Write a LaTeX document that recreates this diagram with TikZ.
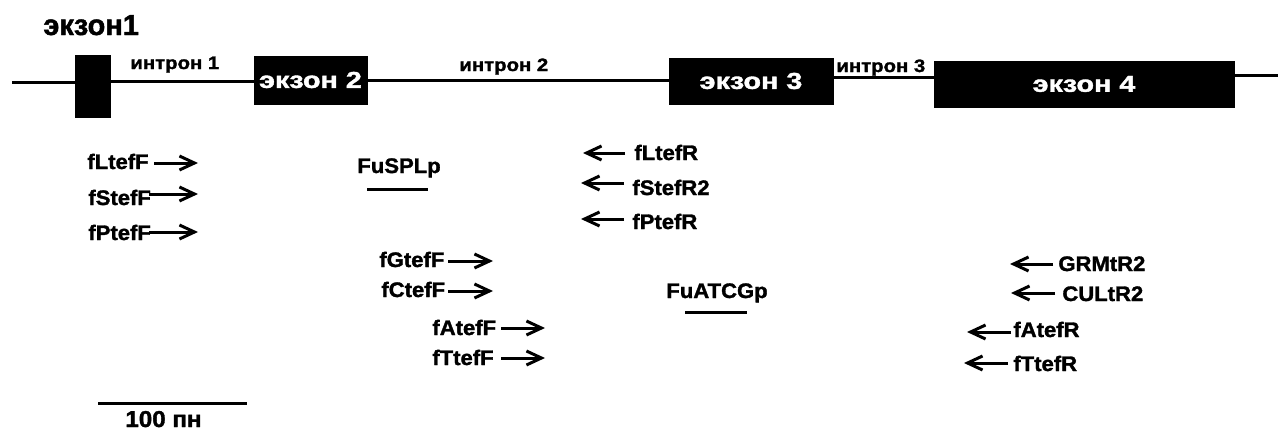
\documentclass[tikz,border=0pt]{standalone}
\usepackage{fontspec}
\usepackage{graphicx}
\setmainfont{Liberation Sans}[BoldFeatures={FakeBold=1.5}]
\usetikzlibrary{arrows.meta}
\newcommand\tx[3]{\fontsize{#1}{#1}\selectfont\scalebox{#2}[1]{#3}}
\tikzset{
  gene/.style={line width=1.5pt},
  exon/.style={fill=black, draw=black, inner sep=0pt, text=white, font=\bfseries},
  lab/.style={inner sep=0pt, anchor=base west, font=\bfseries},
  pr/.style={line width=1.5pt, -{Straight Barb[length=7.5pt,width=7pt,line width=1.5pt]}},
  bar/.style={line width=1.5pt}
}
\begin{document}
\begin{tikzpicture}[x=0.5pt,y=-0.5pt]
\useasboundingbox (0,0) rectangle (1278,434);
% exons
\node[exon, minimum width=17.5pt, minimum height=31pt] (e1) at (92.5,86) {};
\node[exon, minimum width=56.5pt, minimum height=24pt] (e2) at (310.5,80) {\tx{11.5}{1.25}{экзон 2}};
\node[exon, minimum width=82pt, minimum height=23pt] (e3) at (751,81) {\tx{11.5}{1.25}{экзон 3}};
\node[exon, minimum width=150pt, minimum height=23pt] (e4) at (1084,84) {\tx{11.5}{1.25}{экзон 4}};
% gene line
\coordinate (l0) at (12,82);
\coordinate (l1) at (110,81.5);
\coordinate (l2) at (367,80);
\coordinate (l3) at (833,77);
\coordinate (l4) at (1278,75);
\draw[gene] (l0) -- (l0 -| e1.west);
\draw[gene] (l1) -- (l1 -| e2.west);
\draw[gene] (l2) -- (l2 -| e3.west);
\draw[gene] (l3) -- (l3 -| e4.west);
\draw[gene] (l4 -| e4.east) -- (l4);
% labels top
\node[lab] (t1) at (43,35) {\tx{14.5}{1.0}{экзон1}};
\node[lab] (i1) at (130,69) {\tx{9}{1.13}{интрон 1}};
\node[lab] (i2) at (459,71) {\tx{9}{1.13}{интрон 2}};
\node[lab] (i3) at (836,72) {\tx{9}{1.13}{интрон 3}};
% forward primers left
\node[lab] (p1) at (87,169) {\tx{10.5}{1.05}{fLtefF}};
\node[lab] (p2) at (88,205) {\tx{10.5}{1.05}{fStefF}};
\node[lab] (p3) at (88,240) {\tx{10.5}{1.05}{fPtefF}};
\coordinate (a1s) at (154,163); \coordinate (a1e) at (198,163);
\coordinate (a2s) at (149,194); \coordinate (a2e) at (198,194);
\coordinate (a3s) at (149,232); \coordinate (a3e) at (198,232);
\draw[pr] (a1s) -- (a1e);
\draw[pr] (a2s) -- (a2e);
\draw[pr] (a3s) -- (a3e);
% probe FuSPLp
\node[lab] (pb1) at (357,173) {\tx{10.5}{1.05}{FuSPLp}};
\coordinate (b1s) at (367,189); \coordinate (b1e) at (428,189);
\draw[bar] (b1s) -- (b1e);
% forward primers middle
\node[lab] (p4) at (379,267) {\tx{10.5}{1.05}{fGtefF}};
\node[lab] (p5) at (381,297) {\tx{10.5}{1.05}{fCtefF}};
\node[lab] (p6) at (432,335) {\tx{10.5}{1.05}{fAtefF}};
\node[lab] (p7) at (432,365) {\tx{10.5}{1.05}{fTtefF}};
\coordinate (a4s) at (448,261); \coordinate (a4e) at (493,261);
\coordinate (a5s) at (448,291); \coordinate (a5e) at (493,291);
\coordinate (a6s) at (501,328); \coordinate (a6e) at (545,328);
\coordinate (a7s) at (501,358); \coordinate (a7e) at (545,358);
\draw[pr] (a4s) -- (a4e);
\draw[pr] (a5s) -- (a5e);
\draw[pr] (a6s) -- (a6e);
\draw[pr] (a7s) -- (a7e);
% reverse primers middle
\node[lab] (r1) at (634,160) {\tx{10.5}{1.05}{fLtefR}};
\node[lab] (r2) at (632,195) {\tx{10.5}{1.05}{fStefR2}};
\node[lab] (r3) at (632,229) {\tx{10.5}{1.05}{fPtefR}};
\coordinate (c1s) at (625,153); \coordinate (c1e) at (583,153);
\coordinate (c2s) at (624,183); \coordinate (c2e) at (581,183);
\coordinate (c3s) at (624,219); \coordinate (c3e) at (581,219);
\draw[pr] (c1s) -- (c1e);
\draw[pr] (c2s) -- (c2e);
\draw[pr] (c3s) -- (c3e);
% probe FuATCGp
\node[lab] (pb2) at (666,298) {\tx{10.5}{1.05}{FuATCGp}};
\coordinate (b2s) at (685,312); \coordinate (b2e) at (747,312);
\draw[bar] (b2s) -- (b2e);
% reverse primers right
\node[lab] (r4) at (1058,271) {\tx{10.5}{1.05}{GRMtR2}};
\node[lab] (r5) at (1062,301) {\tx{10.5}{1.05}{CULtR2}};
\node[lab] (r6) at (1013,337) {\tx{10.5}{1.05}{fAtefR}};
\node[lab] (r7) at (1013,371) {\tx{10.5}{1.05}{fTtefR}};
\coordinate (c4s) at (1053,264); \coordinate (c4e) at (1010,264);
\coordinate (c5s) at (1055,293); \coordinate (c5e) at (1011,293);
\coordinate (c6s) at (1011,332); \coordinate (c6e) at (967,332);
\coordinate (c7s) at (1008,363); \coordinate (c7e) at (964,363);
\draw[pr] (c4s) -- (c4e);
\draw[pr] (c5s) -- (c5e);
\draw[pr] (c6s) -- (c6e);
\draw[pr] (c7s) -- (c7e);
% scale bar
\coordinate (s1) at (98,403); \coordinate (s2) at (247,403);
\draw[bar] (s1) -- (s2);
\node[lab] (sl) at (125,427) {\tx{11.5}{1.05}{100 пн}};
\end{tikzpicture}
\end{document}
